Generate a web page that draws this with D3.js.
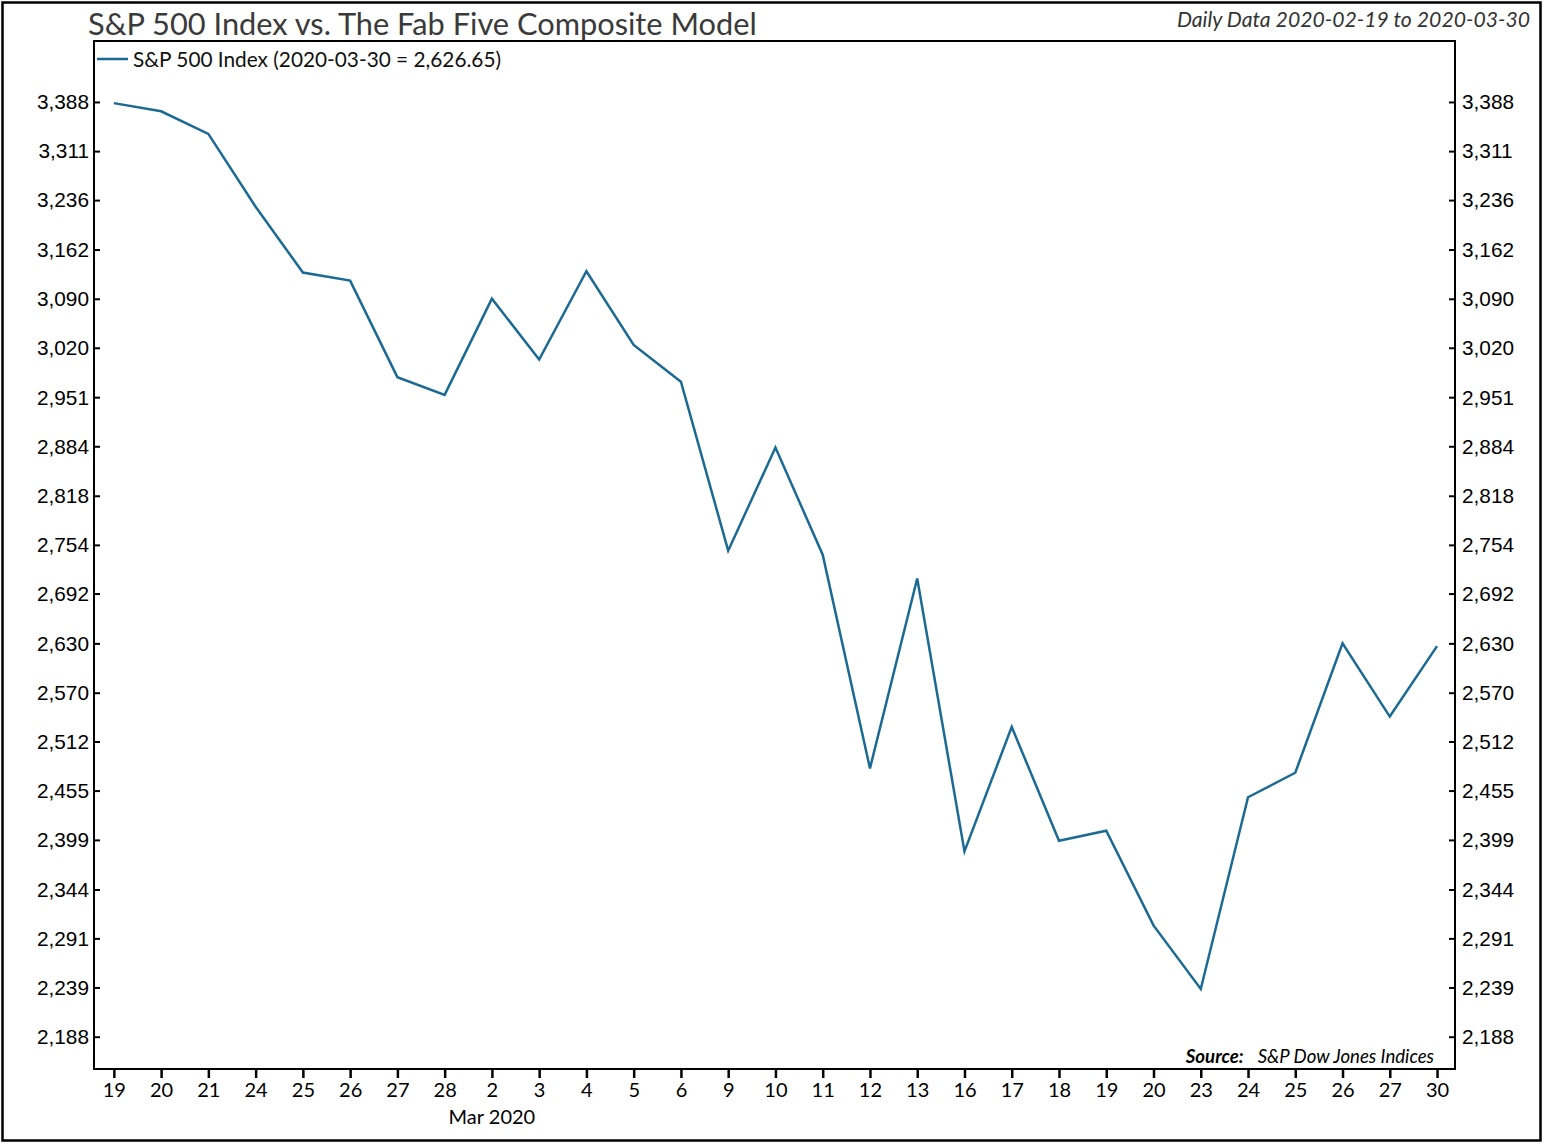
<!DOCTYPE html>
<html><head><meta charset="utf-8">
<script src="https://cdn.jsdelivr.net/npm/d3@7"></script>
<style>
html,body{margin:0;padding:0;background:#fff;}
svg{display:block;}
</style></head>
<body>
<svg id="chart" width="1547" height="1147"></svg>
<script>
// ---- Data ----
const dateLabels = ["19","20","21","24","25","26","27","28","2","3","4","5","6","9","10","11","12","13","16","17","18","19","20","23","24","25","26","27","30"];
const dates = ["2020-02-19","2020-02-20","2020-02-21","2020-02-24","2020-02-25","2020-02-26","2020-02-27","2020-02-28",
  "2020-03-02","2020-03-03","2020-03-04","2020-03-05","2020-03-06","2020-03-09","2020-03-10","2020-03-11","2020-03-12","2020-03-13",
  "2020-03-16","2020-03-17","2020-03-18","2020-03-19","2020-03-20","2020-03-23","2020-03-24","2020-03-25","2020-03-26","2020-03-27","2020-03-30"];
const spxValues = [3386.15,3373.23,3337.75,3225.89,3128.21,3116.39,2978.76,2954.22,
  3090.23,3003.37,3130.12,3023.94,2972.37,2746.56,2882.23,2741.38,2480.64,2711.02,
  2386.13,2529.19,2398.10,2409.39,2304.92,2237.40,2447.33,2475.56,2630.07,2541.47,2626.65];
const yTickValues = [2188,2239,2291,2344,2399,2455,2512,2570,2630,2692,2754,2818,2884,2951,3020,3090,3162,3236,3311,3388];
const monthLabel = {index: 8, text: "Mar 2020"};
const titleText = "S&P 500 Index vs. The Fab Five Composite Model";
const subtitleText = "Daily Data 2020-02-19 to 2020-03-30";
const legendText = "S&P 500 Index (2020-03-30 = 2,626.65)";
const sourceLabel = "Source:";
const sourceText = "S&P Dow Jones Indices";

// ---- Layout ----
const svg = d3.select("#chart");
const L = 94, R = 1455, T = 41, B = 1069;
const lineColor = "#1b6a94";

const x = d3.scaleLinear().domain([-0.42, dates.length - 1 + 0.38]).range([L, R]);
const y = d3.scaleLog().domain([2155.2, 3486]).range([B, T]);

// outer frame
svg.append("rect").attr("x", 2.5).attr("y", 2.5).attr("width", 1538).attr("height", 1138)
  .attr("fill", "none").attr("stroke", "#000").attr("stroke-width", 2.5);

// plot frame
svg.append("rect").attr("x", L).attr("y", T).attr("width", R - L).attr("height", B - T)
  .attr("fill", "none").attr("stroke", "#000").attr("stroke-width", 2);

// y axes (ticks inward)
const fmt = d3.format(",");
const yLeft = d3.axisRight(y).tickValues(yTickValues).tickSize(6).tickFormat("");
const gl = svg.append("g").attr("transform", `translate(${L},0)`).call(yLeft);
gl.select(".domain").remove();
gl.selectAll(".tick line").attr("stroke", "#000").attr("stroke-width", 2);
gl.selectAll(".tick").append("text").attr("x", -5).attr("dy", "0.33em")
  .attr("text-anchor", "end").attr("fill", "#000")
  .style("font-family", "'Liberation Sans', Arial, sans-serif").style("font-size", "20.8px")
  .text(d => fmt(d));

const yRight = d3.axisLeft(y).tickValues(yTickValues).tickSize(6).tickFormat("");
const gr = svg.append("g").attr("transform", `translate(${R},0)`).call(yRight);
gr.select(".domain").remove();
gr.selectAll(".tick line").attr("stroke", "#000").attr("stroke-width", 2);
gr.selectAll(".tick").append("text").attr("x", 7).attr("dy", "0.33em")
  .attr("text-anchor", "start").attr("fill", "#000")
  .style("font-family", "'Liberation Sans', Arial, sans-serif").style("font-size", "20.8px")
  .text(d => fmt(d));

// x axis (ticks outward)
const xAxis = d3.axisBottom(x).tickValues(d3.range(dates.length)).tickSize(9).tickPadding(5)
  .tickFormat(i => dateLabels[i]);
const gx = svg.append("g").attr("transform", `translate(0,${B})`).call(xAxis);
gx.select(".domain").remove();
gx.selectAll(".tick line").attr("stroke", "#000").attr("stroke-width", 2.5);
gx.selectAll(".tick text").attr("fill", "#000").style("font-family", "Lato, sans-serif").style("font-size", "20px");

svg.append("text").attr("x", x(monthLabel.index)).attr("y", 1124).attr("text-anchor", "middle")
  .style("font-family", "Lato, sans-serif").style("font-size", "20px").attr("fill", "#000")
  .text(monthLabel.text);

// line
const line = d3.line().x((d, i) => x(i)).y(d => y(d));
svg.append("path").datum(spxValues).attr("d", line).attr("fill", "none")
  .attr("stroke", lineColor).attr("stroke-width", 2.5).attr("stroke-linejoin", "miter");

// title
const title = svg.append("text").attr("x", 88).attr("y", 35)
  .style("font-family", "Lato, sans-serif").style("font-size", "28px").attr("fill", "#3a3a3a")
  .text(titleText);
const tw = title.node().getComputedTextLength();
title.style("font-size", (28 * 669 / tw).toFixed(2) + "px");

// subtitle
svg.append("text").attr("x", 1530).attr("y", 27).attr("text-anchor", "end")
  .style("font-family", "Lato, sans-serif").style("font-size", "21.2px").style("font-style", "italic")
  .attr("fill", "#333").text(subtitleText);

// legend
svg.append("line").attr("x1", 97).attr("x2", 128).attr("y1", 59).attr("y2", 59)
  .attr("stroke", lineColor).attr("stroke-width", 2.5);
svg.append("text").attr("x", 133).attr("y", 67)
  .style("font-family", "Lato, sans-serif").style("font-size", "20.8px").attr("fill", "#111")
  .text(legendText);

// source
const src = svg.append("text").attr("x", 1434).attr("y", 1063).attr("text-anchor", "end")
  .style("font-family", "Lato, sans-serif").style("font-size", "18.6px").style("font-style", "italic").attr("fill", "#000");
src.append("tspan").style("font-weight", "bold").text(sourceLabel);
src.append("tspan").attr("dx", 14).text(sourceText);
</script>
</body></html>
